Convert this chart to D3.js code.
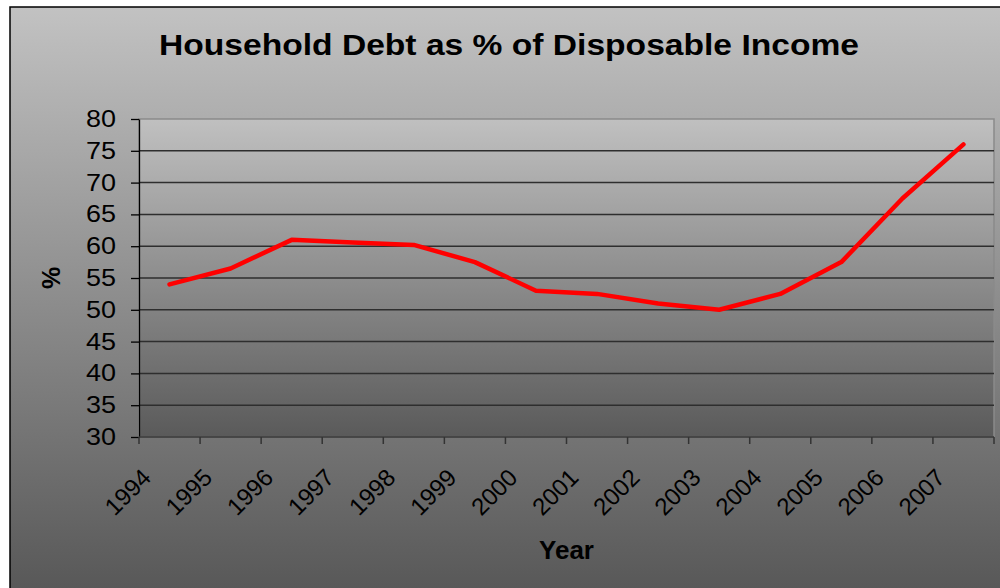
<!DOCTYPE html>
<html>
<head>
<meta charset="utf-8">
<script src="https://cdn.jsdelivr.net/npm/d3@7"></script>
<style>
  html, body { margin: 0; padding: 0; background: #ffffff; }
  svg { display: block; font-family: "Liberation Sans", Arial, sans-serif; }
</style>
</head>
<body>
<svg id="chart" width="1000" height="588"></svg>
<script>
// Household debt as a share of disposable income, by year
const years = ["1994","1995","1996","1997","1998","1999","2000","2001","2002","2003","2004","2005","2006","2007"];
const debtPct = [54, 56.5, 61, 60.6, 60.2, 57.5, 53, 52.5, 51, 50, 52.5, 57.5, 67.5, 76];
const yTicks = [30, 35, 40, 45, 50, 55, 60, 65, 70, 75, 80];

const svg = d3.select("#chart");
const W = 1000, H = 588;
const plot = { left: 139, top: 119, right: 994, bottom: 437 };

const defs = svg.append("defs");
const bgGrad = defs.append("linearGradient").attr("id", "bgGrad")
  .attr("x1", 0).attr("y1", 0).attr("x2", 0).attr("y2", 1);
bgGrad.append("stop").attr("offset", "0%").attr("stop-color", "#c2c2c2");
bgGrad.append("stop").attr("offset", "100%").attr("stop-color", "#575757");

const plotGrad = defs.append("linearGradient").attr("id", "plotGrad")
  .attr("x1", 0).attr("y1", 0).attr("x2", 0).attr("y2", 1);
plotGrad.append("stop").attr("offset", "0%").attr("stop-color", "#c0c0c0");
plotGrad.append("stop").attr("offset", "100%").attr("stop-color", "#5a5a5a");

// Chart area
svg.append("rect").attr("x", 10).attr("y", 7).attr("width", W).attr("height", H)
  .attr("fill", "url(#bgGrad)").attr("stroke", "#000").attr("stroke-width", 1.5);

// Plot area
svg.append("rect")
  .attr("x", plot.left).attr("y", plot.top)
  .attr("width", plot.right - plot.left).attr("height", plot.bottom - plot.top)
  .attr("fill", "url(#plotGrad)").attr("stroke", "#8a8a8a").attr("stroke-width", 1.5);

const x = d3.scaleBand().domain(years).range([plot.left, plot.right]).padding(0);
const y = d3.scaleLinear().domain([30, 80]).range([plot.bottom, plot.top]);

// Horizontal gridlines
svg.append("g")
  .selectAll("line")
  .data(yTicks.filter(d => d > 30 && d < 80))
  .join("line")
  .attr("x1", plot.left).attr("x2", plot.right)
  .attr("y1", d => y(d)).attr("y2", d => y(d))
  .attr("stroke", "#2e2e2e").attr("stroke-width", 1.5);

// Y axis
const yAxis = svg.append("g")
  .attr("transform", `translate(${plot.left},0)`)
  .call(d3.axisLeft(y).tickValues(yTicks).tickSize(8).tickPadding(15).tickSizeOuter(0));
yAxis.select(".domain").attr("stroke", "#000").attr("stroke-width", 1.3);
yAxis.selectAll(".tick line").attr("stroke", "#000").attr("stroke-width", 1.3);
yAxis.selectAll(".tick text")
  .attr("font-size", 23.5).attr("fill", "#000")
  .attr("textLength", 30).attr("lengthAdjust", "spacingAndGlyphs")
  .attr("font-family", "Liberation Sans, Arial, sans-serif");

// X axis with ticks on category boundaries
const xAxisG = svg.append("g").attr("transform", `translate(0,${plot.bottom})`);
xAxisG.append("line")
  .attr("x1", plot.left).attr("x2", plot.right)
  .attr("y1", 0).attr("y2", 0)
  .attr("stroke", "#333").attr("stroke-width", 1.5);
const boundaries = years.map(d => x(d)).concat([plot.right]);
xAxisG.selectAll("line.tk")
  .data(boundaries)
  .join("line").attr("class", "tk")
  .attr("x1", d => d).attr("x2", d => d)
  .attr("y1", 0).attr("y2", 7)
  .attr("stroke", "#333").attr("stroke-width", 1.5);
xAxisG.selectAll("text")
  .data(years)
  .join("text")
  .attr("transform", d => `translate(${x(d) + x.bandwidth() / 2 - 17},${42}) rotate(-45)`)
  .attr("text-anchor", "end")
  .attr("font-size", 24)
  .attr("fill", "#000")
  .text(d => d);

// Data line
const line = d3.line()
  .x((d, i) => x(years[i]) + x.bandwidth() / 2)
  .y(d => y(d));
svg.append("path")
  .datum(debtPct)
  .attr("d", line)
  .attr("fill", "none")
  .attr("stroke", "#ff0000")
  .attr("stroke-width", 4.5)
  .attr("stroke-linejoin", "round")
  .attr("stroke-linecap", "round");

// Title and axis titles
svg.append("text")
  .attr("x", 509).attr("y", 55)
  .attr("text-anchor", "middle")
  .attr("font-size", 29).attr("font-weight", "bold")
  .attr("textLength", 700).attr("lengthAdjust", "spacingAndGlyphs")
  .text("Household Debt as % of Disposable Income");

svg.append("text")
  .attr("transform", "translate(60,278) rotate(-90)")
  .attr("text-anchor", "middle")
  .attr("font-size", 25).attr("font-weight", "bold")
  .text("%");

svg.append("text")
  .attr("x", (plot.left + plot.right) / 2).attr("y", 559)
  .attr("text-anchor", "middle")
  .attr("font-size", 26).attr("font-weight", "bold")
  .text("Year");
</script>
</body>
</html>
